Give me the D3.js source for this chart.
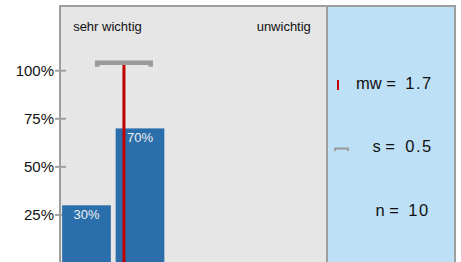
<!DOCTYPE html>
<html>
<head>
<meta charset="utf-8">
<script src="https://cdn.jsdelivr.net/npm/d3@7"></script>
<style>
  body { margin: 0; background: #fff; }
  svg { display: block; font-family: "Liberation Sans", Arial, sans-serif; }
  .tick-label { font-size: 15px; fill: #111; }
  .end-label { font-size: 13px; fill: #111; }
  .bar-label { font-size: 13px; fill: #f0f0f0; }
  .stat { font-size: 16.5px; fill: #111; }
  .stat-value { font-size: 16.5px; fill: #111; letter-spacing: 1.5px; }
</style>
</head>
<body>
<svg width="461" height="262"></svg>
<script>
// answer scale 1 (sehr wichtig) .. 5 (unwichtig)
const categories = [1, 2, 3, 4, 5];
const percents = [30, 70, 0, 0, 0];
const yTicks = [25, 50, 75, 100];
const endLabels = ['sehr wichtig', 'unwichtig'];
const mean = 1.7;
const sd = 0.5;
const n = 10;

const svg = d3.select('svg');

const panel = { left: 60, right: 327, top: 6, bottom: 263 };
const side = { left: 327, right: 455 };

const x = d3.scaleBand()
  .domain(categories)
  .range([panel.left, panel.right])
  .paddingInner(0.09)
  .paddingOuter(0.04);

const y = d3.scaleLinear()
  .domain([0, 100])
  .range([panel.bottom, 70.7]);

// continuous position for mean / sd on the same axis
const xm = d3.scaleLinear()
  .domain([1, 5])
  .range([x(1) + x.bandwidth() / 2, x(5) + x.bandwidth() / 2]);

// panels
svg.append('rect')
  .attr('x', panel.left).attr('y', panel.top)
  .attr('width', panel.right - panel.left).attr('height', panel.bottom - panel.top)
  .attr('fill', '#e6e6e6')
  .attr('stroke', '#9e9e9e').attr('stroke-width', 2);

svg.append('rect')
  .attr('x', side.left).attr('y', panel.top)
  .attr('width', side.right - side.left).attr('height', panel.bottom - panel.top)
  .attr('fill', '#bee0f7')
  .attr('stroke', '#9e9e9e').attr('stroke-width', 2);

// y axis ticks
const ticks = svg.append('g').selectAll('g')
  .data(yTicks)
  .enter()
  .append('g')
  .attr('transform', (d) => `translate(0, ${y(d)})`);

ticks.append('line')
  .attr('x1', panel.left - 5).attr('x2', panel.left + 6)
  .attr('stroke', '#a0a0a0').attr('stroke-width', 2);

ticks.append('text')
  .attr('class', 'tick-label')
  .attr('x', panel.left - 6)
  .attr('dy', '0.36em')
  .attr('text-anchor', 'end')
  .text((d) => `${d}%`);

// end labels
svg.append('text')
  .attr('class', 'end-label')
  .attr('x', x(1) + 11).attr('y', 31)
  .text(endLabels[0]);

svg.append('text')
  .attr('class', 'end-label')
  .attr('x', x(5) + x.bandwidth() - 14).attr('y', 31)
  .attr('text-anchor', 'end')
  .text(endLabels[1]);

// bars
const bars = svg.append('g').selectAll('g')
  .data(categories.map((c, i) => ({ cat: c, value: percents[i] })).filter((d) => d.value > 0))
  .enter()
  .append('g');

bars.append('rect')
  .attr('x', (d) => x(d.cat))
  .attr('y', (d) => y(d.value))
  .attr('width', x.bandwidth())
  .attr('height', (d) => y(0) - y(d.value))
  .attr('fill', '#2a6eac');

bars.append('text')
  .attr('class', 'bar-label')
  .attr('x', (d) => x(d.cat) + x.bandwidth() / 2)
  .attr('y', (d) => y(d.value) + 14)
  .attr('text-anchor', 'middle')
  .text((d) => `${d.value}%`);

// mean line + sd bracket
const by = y(100) - 8;

svg.append('line')
  .attr('x1', xm(mean)).attr('x2', xm(mean))
  .attr('y1', by).attr('y2', y(0))
  .attr('stroke', '#c00000').attr('stroke-width', 3);

svg.append('path')
  .attr('d', `M${xm(mean - sd)},${by + 4}V${by}H${xm(mean + sd)}V${by + 4}`)
  .attr('fill', 'none')
  .attr('stroke', '#9a9a9a').attr('stroke-width', 4.5);

// side stats
svg.append('line')
  .attr('x1', 338).attr('x2', 338).attr('y1', 80).attr('y2', 90)
  .attr('stroke', '#c00000').attr('stroke-width', 2);

svg.append('path')
  .attr('d', 'M335,151V148.5H348V151')
  .attr('fill', 'none')
  .attr('stroke', '#9a9a9a').attr('stroke-width', 1.8);

const stats = [
  { label: 'mw =', value: mean.toFixed(1), lx: 396, y: 88.5 },
  { label: 's =', value: sd.toFixed(1), lx: 395, y: 152 },
  { label: 'n =', value: String(n), lx: 399, y: 215.7 }
];

const statG = svg.append('g').selectAll('g')
  .data(stats)
  .enter()
  .append('g');

statG.append('text')
  .attr('class', 'stat')
  .attr('x', (d) => d.lx)
  .attr('y', (d) => d.y)
  .attr('text-anchor', 'end')
  .text((d) => d.label);

statG.append('text')
  .attr('class', 'stat-value')
  .attr('x', 419)
  .attr('y', (d) => d.y)
  .attr('text-anchor', 'middle')
  .text((d) => d.value);
</script>
</body>
</html>
